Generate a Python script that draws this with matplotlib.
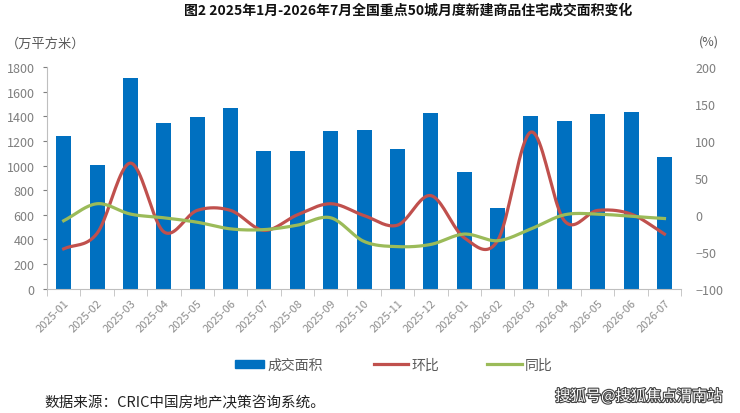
import numpy as np
import matplotlib
matplotlib.use("Agg")
import matplotlib.pyplot as plt
import matplotlib.patheffects as pe
from matplotlib.patches import Patch
from matplotlib.lines import Line2D

plt.rcParams['font.family'] = ['Noto Sans CJK SC', 'DejaVu Sans']

months = ['2025-01', '2025-02', '2025-03', '2025-04', '2025-05', '2025-06', '2025-07',
          '2025-08', '2025-09', '2025-10', '2025-11', '2025-12', '2026-01', '2026-02',
          '2026-03', '2026-04', '2026-05', '2026-06', '2026-07']
area = [1237, 1008, 1711, 1343, 1397, 1465, 1116, 1116, 1276, 1292, 1133, 1427,
        946, 659, 1400, 1362, 1416, 1435, 1068]
mom = [-46, -25, 70, -23, 6, 6, -21, 0, 15, -1, -14, 26, -31, -35, 112, -8, 6, 1, -26]
yoy = [-8, 15, 1, -4, -10, -19, -20, -14, -4, -36, -43, -40, -26, -35, -19, 0, 1, -2, -5]

blue = '#0070C0'
red = '#C0504D'
green = '#9BBB59'
grey = '#7f7f7f'


def smooth(x, y, n=20):
    # catmull-rom curve through the points, like excel's smoothed line
    x = np.asarray(x, float)
    y = np.asarray(y, float)
    px = np.concatenate([[2 * x[0] - x[1]], x, [2 * x[-1] - x[-2]]])
    py = np.concatenate([[2 * y[0] - y[1]], y, [2 * y[-1] - y[-2]]])
    xs, ys = [], []
    t = np.linspace(0, 1, n, endpoint=False)
    for i in range(1, len(px) - 2):
        for p, out in ((px, xs), (py, ys)):
            p0, p1, p2, p3 = p[i - 1], p[i], p[i + 1], p[i + 2]
            out.extend(0.5 * (2 * p1 + (-p0 + p2) * t + (2 * p0 - 5 * p1 + 4 * p2 - p3) * t ** 2
                              + (-p0 + 3 * p1 - 3 * p2 + p3) * t ** 3))
    xs.append(x[-1])
    ys.append(y[-1])
    return np.array(xs), np.array(ys)


fig = plt.figure(figsize=(7.4, 4.14), dpi=100)
ax = fig.add_axes([0.0635, 0.30, 0.857, 0.536])
x = np.arange(len(months))

ax.bar(x, area, width=0.45, color=blue, zorder=2)
ax.set_xlim(-0.5, len(months) - 0.5)
ax.set_ylim(0, 1800)
ax.set_yticks(range(0, 1801, 200))
ax.tick_params(axis='y', colors=grey, labelsize=9, length=3, direction='out', pad=6)
ax.set_xticks(x)
ax.set_xticklabels(months, rotation=45, ha='right', rotation_mode='anchor',
                   fontsize=8, color='#8c8c8c')
ax.tick_params(axis='x', length=0, pad=6)
ax.set_xticks(np.arange(-0.5, len(months)), minor=True)
ax.tick_params(axis='x', which='minor', length=5, color='#bfbfbf')
for s in ['top', 'right']:
    ax.spines[s].set_visible(False)
ax.spines['left'].set_color('#bfbfbf')
ax.spines['bottom'].set_color('#bfbfbf')

ax2 = ax.twinx()
ax2.set_ylim(-100, 200)
ax2.set_yticks(range(-100, 201, 50))
ax2.tick_params(axis='y', colors=grey, labelsize=9, length=0, pad=10)
for s in ['top', 'right', 'left', 'bottom']:
    ax2.spines[s].set_visible(False)

sx, sy = smooth(x, mom)
ax2.plot(sx, sy, color=red, lw=2.3, zorder=3)
sx, sy = smooth(x, yoy)
ax2.plot(sx, sy, color=green, lw=2.3, zorder=3)

fig.text(0.552, 0.975, '图2 2025年1月-2026年7月全国重点50城月度新建商品住宅成交面积变化',
         ha='center', va='center', fontsize=10, fontweight='bold', color='#111111')
fig.text(0.008, 0.893, '（万平方米）', ha='left', va='center', fontsize=9.5, color='#595959')
fig.text(0.945, 0.898, '(%)', ha='left', va='center', fontsize=9, color='#595959')

# legend entries placed one by one to match the uneven spacing
entries = [(Patch(color=blue), '成交面积', 0.318, 2.1),
           (Line2D([], [], color=red, lw=2.3), '环比', 0.505, 2.5),
           (Line2D([], [], color=green, lw=2.3), '同比', 0.658, 2.5)]
for h, lab, xpos, hl in entries:
    fig.legend([h], [lab], loc='center left', bbox_to_anchor=(xpos, 0.116), frameon=False,
               fontsize=10, handlelength=hl, handleheight=0.6, handletextpad=0.2,
               borderpad=0, borderaxespad=0, labelcolor='#595959')

fig.text(0.06, 0.025, '数据来源：CRIC中国房地产决策咨询系统。', ha='left', va='center',
         fontsize=10.5, color='#222222')
fig.text(0.976, 0.04, '搜狐号@搜狐焦点渭南站', ha='right', va='center', fontsize=11,
         color='white',
         path_effects=[pe.withStroke(linewidth=1.6, foreground='#444444')])

fig.savefig('out.png', dpi=100)
